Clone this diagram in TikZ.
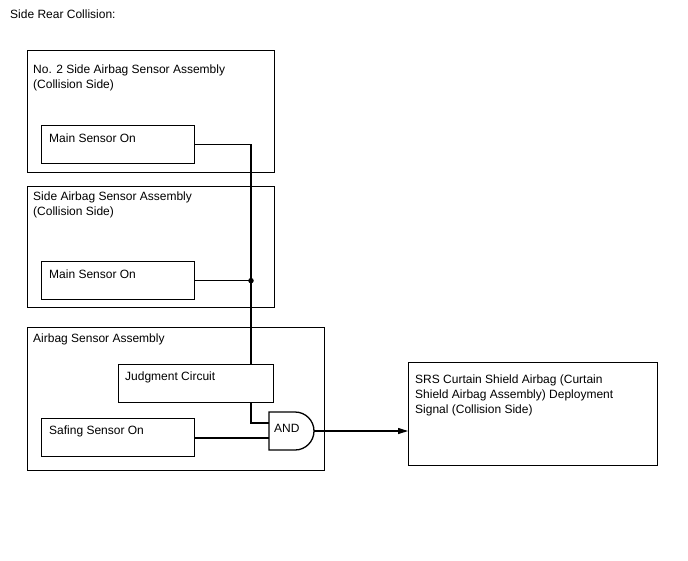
\documentclass[tikz,border=0pt]{standalone}
\usepackage{fontspec}
\setmainfont{Liberation Sans}
\usetikzlibrary{arrows.meta,positioning}

\begin{document}
\begin{tikzpicture}[
  x=1pt, y=-1pt,
  group/.style={draw, line width=1.3pt, inner sep=0pt, anchor=north west},
  sensor/.style={draw, line width=1.3pt, inner sep=0pt, anchor=north west},
  label/.style={inner sep=0pt, anchor=base west, align=left, font=\fontsize{12}{14.7}\selectfont},
  wire/.style={line width=1.1pt},
  arrow/.style={-{Triangle[length=10pt, width=6pt]}, line width=1.1pt}
]
\useasboundingbox (0,0) rectangle (688,560);

\node[label] (title) at (10,18.5) {Side Rear Collision:};

% multi-line labels sit on the baseline of their last line
\node[group, minimum width=247pt, minimum height=122pt] (sas2) at (27,50) {};
\node[label] (sas2txt) at (33,88) {No. 2 Side Airbag Sensor Assembly\\(Collision Side)};
\node[sensor, minimum width=153pt, minimum height=38pt] (ms1) at (41,125) {};
\node[label] at (49,142) {Main Sensor On};

\node[group, minimum width=247pt, minimum height=121pt] (sas1) at (27,186) {};
\node[label] (sas1txt) at (33,215) {Side Airbag Sensor Assembly\\(Collision Side)};
\node[sensor, minimum width=153pt, minimum height=38pt] (ms2) at (41,261) {};
\node[label] at (49,278) {Main Sensor On};

\node[group, minimum width=297pt, minimum height=143pt] (asa) at (27,327) {};
\node[label] (asatxt) at (33,342.5) {Airbag Sensor Assembly};
\node[sensor, minimum width=155pt, minimum height=38pt] (jc) at (118,364) {};
\node[label] at (125,380.5) {Judgment Circuit};
\node[sensor, minimum width=153pt, minimum height=38pt] (ss) at (41,418) {};
\node[label] at (49,434) {Safing Sensor On};

\node[sensor, minimum width=249pt, minimum height=103pt] (srs) at (408,362) {};
\node[label] at (415,413) {SRS Curtain Shield Airbag (Curtain\\Shield Airbag Assembly) Deployment\\Signal (Collision Side)};

% AND gate
\draw[line width=1.3pt] (269,412) -- (295,412) arc[start angle=90, end angle=-90, radius=19pt] -- (269,450) -- cycle;
\node[label] (andg) at (274,432.5) {AND};
\coordinate (in1) at (269,423);
\coordinate (in2) at (269,438);
\coordinate (out) at (314,431);

\coordinate (jtop) at (251,364);
\coordinate (jbot) at (251,402);

\draw[wire] (ms1.east) -| (jtop);
\draw[wire] (ms2.east) -- (ms2.east -| jtop) node[circle, fill, inner sep=0pt, minimum size=5.5pt] (dot) {};
\draw[wire] (jbot) |- (in1);
\draw[wire] (ss.east |- in2) -- (in2);
\draw[arrow] (out) -- (out -| srs.west);
\end{tikzpicture}
\end{document}
